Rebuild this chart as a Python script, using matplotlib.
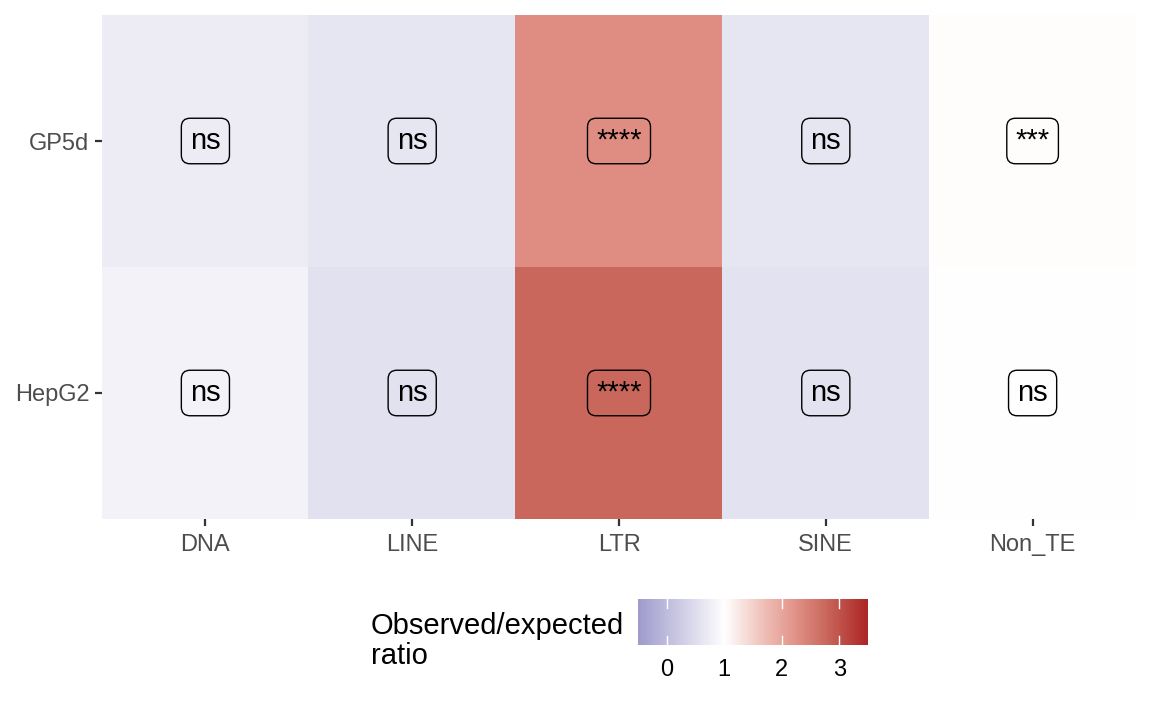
#!/usr/bin/env python3
"""Heatmap of observed/expected ratios for TE classes by cell line."""

import matplotlib
matplotlib.use("Agg")
import matplotlib.pyplot as plt
import numpy as np
from matplotlib.colors import LinearSegmentedColormap, Normalize

plt.rcParams["font.family"] = ["Liberation Sans", "DejaVu Sans"]

classes = ["DNA", "LINE", "LTR", "SINE", "Non_TE"]
cell_lines = ["GP5d", "HepG2"]
ratio_gp5d = [0.72, 0.62, 2.30, 0.62, 1.02]
ratio_hepg2 = [0.82, 0.56, 2.78, 0.57, 1.01]
signif_gp5d = ["ns", "ns", "****", "ns", "***"]
signif_hepg2 = ["ns", "ns", "****", "ns", "ns"]
cbar_ticks = [0, 1, 2, 3]

values = np.array([ratio_gp5d, ratio_hepg2])
labels = [signif_gp5d, signif_hepg2]

vmin, vmax = -0.5, 3.5
# colour stops (value, colour) of the diverging scale, white at ratio 1
scale_stops = [(-0.5, "#9f9bcd"), (1.0, "#ffffff"), (1.7, "#efbfb7"),
               (2.3, "#e08e83"), (2.8, "#c9665b"), (3.5, "#ad2626")]

cmap = LinearSegmentedColormap.from_list(
    "obsexp", [((v - vmin) / (vmax - vmin), c) for v, c in scale_stops]
)
norm = Normalize(vmin=vmin, vmax=vmax)

fig = plt.figure(figsize=(11.52, 7.11), dpi=100)
W, H = 1152, 711
ax = fig.add_axes([102 / W, 1 - 519 / H, (1136 - 102) / W, (519 - 15) / H])

ax.imshow(values, cmap=cmap, norm=norm, aspect="auto",
          extent=(-0.5, len(classes) - 0.5, len(cell_lines) - 0.5, -0.5))

for i, row in enumerate(labels):
    for j, lab in enumerate(row):
        ax.text(j, i, lab, ha="center", va="center", fontsize=21,
                bbox=dict(boxstyle="round,pad=0.3,rounding_size=0.3",
                          facecolor="none", edgecolor="black", linewidth=1))

ax.set_xticks(range(len(classes)))
ax.set_xticklabels(classes)
ax.set_yticks(range(len(cell_lines)))
ax.set_yticklabels(cell_lines)
ax.set_xlim(-0.5, len(classes) - 0.5)
ax.set_ylim(len(cell_lines) - 0.5, -0.5)
for s in ax.spines.values():
    s.set_visible(False)
ax.tick_params(axis="both", colors="#333333", labelcolor="#4d4d4d",
               labelsize=17, length=5, width=1.6)
ax.tick_params(axis="x", pad=6)
ax.tick_params(axis="y", pad=4)

# colour bar
cax = fig.add_axes([638 / W, 1 - 645 / H, (868 - 638) / W, (645 - 599) / H])
grad = np.linspace(vmin, vmax, 400).reshape(1, -1)
cax.imshow(grad, cmap=cmap, norm=norm, aspect="auto",
           extent=(vmin, vmax, 0, 1))
cax.set_xlim(vmin, vmax)
cax.set_ylim(0, 1)
for t in cbar_ticks:
    cax.plot([t, t], [0, 0.2], color="white", lw=1)
    cax.plot([t, t], [0.8, 1], color="white", lw=1)
cax.set_xticks(cbar_ticks)
cax.set_xticklabels([str(t) for t in cbar_ticks])
cax.set_yticks([])
cax.tick_params(axis="x", length=0, labelsize=17, labelcolor="black", pad=10)
for s in cax.spines.values():
    s.set_visible(False)

fig.text(371 / W, 1 - 641 / H, "Observed/expected\nratio", ha="left",
         va="center", fontsize=21, linespacing=1.05)

fig.savefig("out.png", dpi=100)
